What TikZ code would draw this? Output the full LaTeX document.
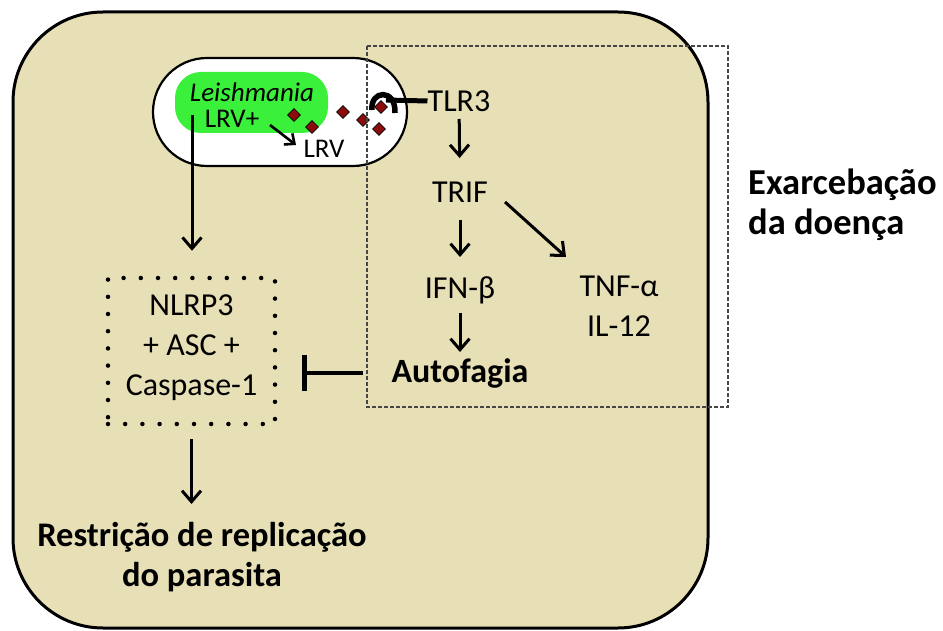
\documentclass[tikz,border=0pt]{standalone}
\usepackage{fontspec}
\setmainfont{Carlito}
\usetikzlibrary{arrows.meta,shapes.misc,shapes.geometric}
\definecolor{cellfill}{RGB}{231,223,181}
\definecolor{parasite}{RGB}{58,240,58}
\definecolor{virus}{RGB}{140,12,12}
\definecolor{dashgrey}{RGB}{70,70,70}

\begin{document}
\begin{tikzpicture}[x=1pt,y=-1pt,
  txt/.style={font=\fontsize{32}{40}\selectfont, inner sep=0pt, align=center},
  smalltxt/.style={font=\fontsize{27}{32}\selectfont, inner sep=0pt},
  boldtxt/.style={font=\bfseries\fontsize{34.5}{40}\selectfont, inner sep=0pt, align=center},
  arr/.style={line width=3pt, -{Straight Barb[length=11pt,width=19pt]}},
  smallarr/.style={line width=2.6pt, -{Straight Barb[length=8pt,width=14pt]}},
  inhibit/.style={line width=3.2pt, -{Bar[width=36pt,line width=4.5pt]}},
  virion/.style={diamond, fill=virus, draw=black, line width=0.6pt, minimum size=13pt, inner sep=0pt},
  complexbox/.style={draw, line width=4.5pt, line cap=round, dash pattern=on 0pt off 17.2pt,
    minimum width=167pt, minimum height=146pt, inner sep=0pt},
  regionbox/.style={draw=dashgrey, line width=1.8pt, dash pattern=on 4pt off 2pt}
]
\useasboundingbox (0,0) rectangle (943,631);

% macrophage
\draw[line width=3pt, fill=cellfill, rounded corners=90pt] (13,12) rectangle (708,628);

% parasitophorous vacuole with the parasite
\node[rounded rectangle, draw, line width=2.2pt, fill=white,
      minimum width=254pt, minimum height=108pt, inner sep=0pt] (vac) at (280,112) {};
\node[fill=parasite, rounded corners=26pt, minimum width=153pt, minimum height=61pt,
      inner sep=0pt] (leishbox) at (251.5,102.5) {};
\node[smalltxt] (leish) at (252,92) {\textit{Leishmania}};
\node[smalltxt] (lrvp) at (232,119) {LRV+};
\node[smalltxt] (lrv) at (324,149) {LRV};
\coordinate (lrvA) at (270,125);
\coordinate (lrvB) at (296,145);
\draw[smallarr] (lrvA) -- (lrvB);

% TLR3 receptor
\node[txt] (tlr3) at (459,101) {TLR3};
\draw[line width=5.5pt] (372,110) .. controls (370,90) and (396,88) .. (395,113);
\draw[line width=5pt] (386,100) -- (tlr3.west);

% LRV particles
\node[virion] (v1) at (294,115) {};
\node[virion] (v2) at (312,127) {};
\node[virion] (v3) at (343,112) {};
\node[virion] (v4) at (363,120) {};
\node[virion] (v5) at (381,107) {};
\node[virion] (v6) at (379,129) {};

% region leading to disease
\draw[regionbox] (367,46) rectangle (728,407);

% TLR3 pathway
\node[txt] (trif) at (460,192) {TRIF};
\node[txt] (ifn) at (460,290) {IFN-β};
\node[boldtxt, font=\bfseries\fontsize{34}{40}\selectfont] (autof) at (460,373) {Autofagia};
\node[txt] (tnf) at (619,306) {TNF-α\\IL-12};
\draw[arr, shorten <=18pt, shorten >=34pt] (tlr3.center) -- (trif.center);
\draw[arr, shorten <=28pt, shorten >=33pt] (trif.center) -- (ifn.center);
\draw[arr, shorten <=23pt, shorten >=21pt] (ifn.center) -- (autof.center);
\coordinate (diagA) at (505,202);
\coordinate (diagB) at (566,257);
\draw[arr] (diagA) -- (diagB);

% inflammasome
\node[complexbox] (nlrp) at (191.5,351) {};
\node[txt] (nlrptxt) at (191.5,348) {NLRP3\\+ ASC +\\Caspase-1};
\coordinate (lrvstart) at (192,115);
\draw[arr, shorten >=25pt] (lrvstart) -- (lrvstart |- nlrp.north);
\draw[inhibit, shorten <=28pt, shorten >=25pt] (autof.west) -- (nlrp.east |- autof.west);

% outcome
\node[boldtxt] (restr) at (202,557) {Restrição de replicação\\do parasita};
\draw[arr, shorten <=13pt, shorten >=18pt] (nlrp.south) -- (nlrp.south |- restr.north);

\node[boldtxt, font=\bfseries\fontsize{36.5}{40}\selectfont, align=left, anchor=west] (exarc) at (748,205) {Exarcebação\\da doença};
\end{tikzpicture}
\end{document}
